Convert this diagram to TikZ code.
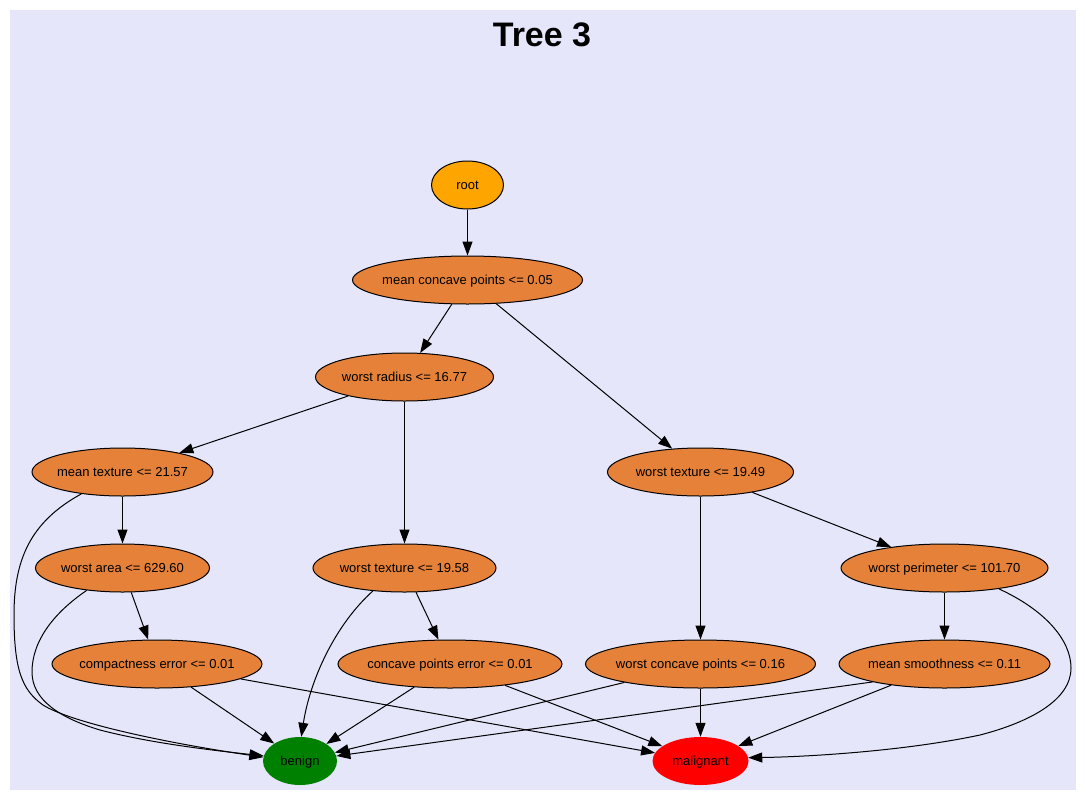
\documentclass[tikz,border=0pt]{standalone}
\usepackage{fontspec}
\setmainfont{Liberation Sans}
\usetikzlibrary{shapes.geometric,arrows.meta}
\definecolor{bg}{HTML}{E6E6FA}
\definecolor{splitc}{HTML}{E58139}
\definecolor{rootc}{HTML}{FFA500}
\definecolor{benignc}{HTML}{008000}
\definecolor{malc}{HTML}{FF0000}
% zero-width label, baseline lowered so the text sits centred in the ellipse
\newcommand\tx[1]{\makebox[0pt]{\raisebox{-4.6pt}[0pt][0pt]{#1}}}

\begin{document}
\begin{tikzpicture}[x=1pt,y=-1pt,
  base/.style={ellipse, inner sep=0pt, minimum height=48pt, font=\fontsize{13}{15}\selectfont},
  splitnode/.style={base, draw=black, line width=1pt, fill=splitc},
  rootnode/.style={base, draw=black, line width=1pt, fill=rootc},
  leafb/.style={base, fill=benignc},
  leafm/.style={base, fill=malc},
  arc/.style={-{Triangle[length=14pt,width=10pt]}, line width=1pt},
]
\fill[white] (0,0) rectangle (1086,801);
\fill[bg] (10,10) rectangle (1076,790);
\useasboundingbox (0,0) rectangle (1086,801);

\node[font=\fontsize{34}{40}\selectfont\bfseries, anchor=base] (title) at (542,46.7) {Tree 3};

% nodes
\node[rootnode, minimum width=72pt]  (root) at (467.5,185) {\tx{root}};
\node[splitnode, minimum width=230pt] (mcp) at (467.5,280) {\tx{mean concave points <= 0.05}};
\node[splitnode, minimum width=178pt] (wr)  at (404.5,377) {\tx{worst radius <= 16.77}};
\node[splitnode, minimum width=181pt] (mt)  at (122.5,472) {\tx{mean texture <= 21.57}};
\node[splitnode, minimum width=186pt] (wta) at (700.5,472) {\tx{worst texture <= 19.49}};
\node[splitnode, minimum width=174pt] (wa)  at (122.5,568) {\tx{worst area <= 629.60}};
\node[splitnode, minimum width=183pt] (wtb) at (404.5,568) {\tx{worst texture <= 19.58}};
\node[splitnode, minimum width=207pt] (wp)  at (944.5,568) {\tx{worst perimeter <= 101.70}};
\node[splitnode, minimum width=210pt] (ce)  at (157,664) {\tx{compactness error <= 0.01}};
\node[splitnode, minimum width=224pt] (cpe) at (450,664) {\tx{concave points error <= 0.01}};
\node[splitnode, minimum width=230pt] (wcp) at (700.5,664) {\tx{worst concave points <= 0.16}};
\node[splitnode, minimum width=211pt] (ms)  at (944.5,664) {\tx{mean smoothness <= 0.11}};
\node[leafb, minimum width=74pt] (ben) at (300,761) {\tx{benign}};
\node[leafm, minimum width=96pt] (mal) at (700.5,761) {\tx{malignant}};

% straight edges
\draw[arc] (root) -- (mcp);
\draw[arc] (mcp) -- (wr);
\draw[arc] (mcp) -- (wta);
\draw[arc] (wr) -- (mt);
\draw[arc] (wr) -- (wtb);
\draw[arc] (mt) -- (wa);
\draw[arc] (wa) -- (ce);
\draw[arc] (ce) -- (ben);
\draw[arc] (ce) -- (mal);
\draw[arc] (wtb) -- (cpe);
\draw[arc] (cpe) -- (ben);
\draw[arc] (cpe) -- (mal);
\draw[arc] (wta) -- (wcp);
\draw[arc] (wta) -- (wp);
\draw[arc] (wp) -- (ms);
\draw[arc] (wcp) -- (ben);
\draw[arc] (wcp) -- (mal);
\draw[arc] (ms.194) -- (ben);
\draw[arc] (ms) -- (mal);

% curved edges
\draw[arc] (mt.208) .. controls (30,522) and (14,560) .. (14,615)
  .. controls (14,670) and (22,690) .. (43,705)
  .. controls (70,722) and (160,742) .. (ben.174);
\draw[arc] (wa.212) .. controls (55,612) and (32,640) .. (32,672)
  .. controls (32,700) and (60,718) .. (100,730)
  .. controls (150,743) and (210,750) .. (ben.172);
\draw[arc] (wtb.216) .. controls (335,625) and (310,680) .. (ben.87);
\draw[arc] (wp.-21) .. controls (1045,610) and (1071,640) .. (1071,668)
  .. controls (1071,700) and (1030,722) .. (980,735)
  .. controls (900,752) and (800,757) .. (mal.4);
\end{tikzpicture}
\end{document}
